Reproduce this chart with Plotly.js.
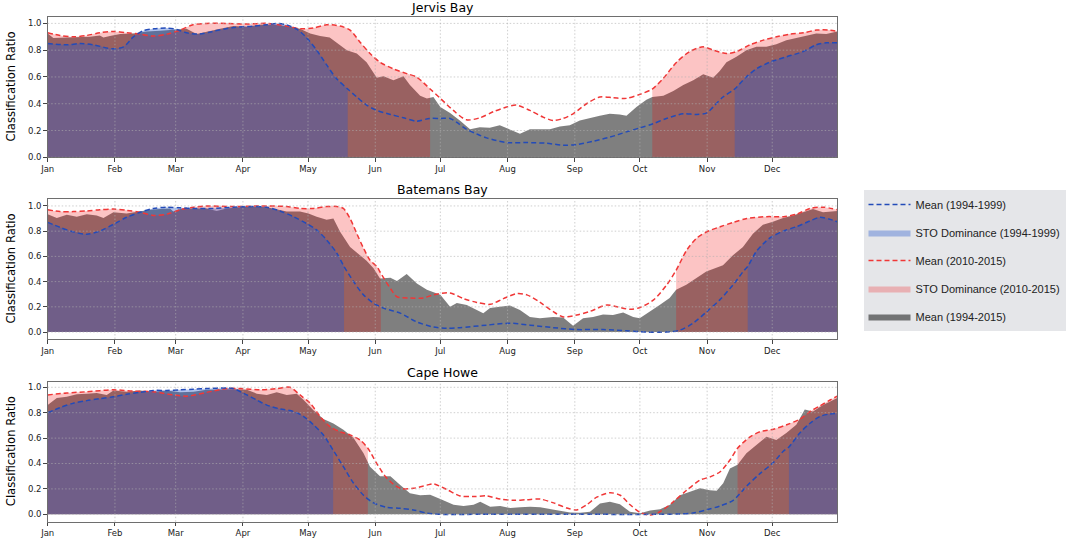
<!DOCTYPE html>
<html><head><meta charset="utf-8">
<script src="https://cdn.plot.ly/plotly-3.0.1.min.js"></script>
<style>html,body{margin:0;padding:0;background:#fff}#chart{width:1074px;height:538px}</style>
</head><body><div id="chart"></div>
<script>
// ---------- tick labels ----------
const monthTicks = [0,31,59,90,120,151,181,212,243,273,304,334];
const monthLabels = ['Jan','Feb','Mar','Apr','May','Jun','Jul','Aug','Sep','Oct','Nov','Dec'];
const yTicks = [0,0.2,0.4,0.6,0.8,1.0];
const siteNames = ['Jervis Bay','Batemans Bay','Cape Howe'];
const seriesNames = ['Mean (1994-1999)','STO Dominance (1994-1999)','Mean (2010-2015)','STO Dominance (2010-2015)','Mean (1994-2015)'];

// ---------- Jervis Bay ----------
const jervisAllDays = [0,2.6,8.8,15,19.5,24,25.7,28.7,33.4,39.5,45.6,51.8,58,64,68.7,74.9,79.5,85.6,91.8,98,104,110,116.3,121,125.6,130,133,137.9,142.5,147,151.7,154.8,159.4,164,167,171.7,174.8,177.8,181,185.5,190,194.7,199.2,203.8,208.4,213.1,217.7,222.3,226.9,231.5,236.1,240.7,245.3,250,254.5,259.1,263.7,266.8,271.4,276,278.7,283.8,288.4,293,297.6,302.2,306.8,309.8,312.9,317.5,322.1,326.7,331.3,335.9,340.5,345.1,349.7,354.3,358.9,364];
const jervisAllMean = [0.925,0.89,0.895,0.895,0.90,0.91,0.895,0.905,0.92,0.925,0.94,0.945,0.95,0.96,0.92,0.945,0.96,0.98,0.975,0.99,0.99,0.98,0.96,0.925,0.905,0.895,0.86,0.80,0.775,0.71,0.595,0.605,0.575,0.605,0.54,0.46,0.44,0.45,0.375,0.33,0.275,0.21,0.225,0.22,0.24,0.21,0.175,0.21,0.21,0.21,0.23,0.24,0.275,0.295,0.31,0.325,0.32,0.31,0.375,0.43,0.45,0.46,0.495,0.54,0.575,0.62,0.595,0.645,0.71,0.75,0.80,0.825,0.825,0.845,0.875,0.89,0.91,0.925,0.92,0.94];
const jervisOldDays = [0,8.8,15,21,30,35,39.5,44,49,55,59.5,64,70,76,85.6,95,101,105.6,110,115,119,124,128.6,133,138.3,142.5,147,151.7,158,164,170,176,181,185.5,188.6,193,197.7,202.3,211.5,220.7,229.9,237.6,243.8,251.5,259.1,266.8,273,279,285.2,292.9,299,303.7,306.7,311.3,316.7,322,326.6,332.8,340.5,348.2,354.3,359,364];
const jervisOldMean = [0.85,0.84,0.85,0.84,0.81,0.825,0.90,0.945,0.96,0.965,0.955,0.93,0.92,0.94,0.97,0.98,0.99,1.0,0.99,0.955,0.90,0.80,0.69,0.59,0.51,0.45,0.39,0.35,0.32,0.295,0.27,0.29,0.29,0.29,0.26,0.21,0.175,0.145,0.11,0.11,0.105,0.09,0.095,0.12,0.15,0.19,0.22,0.25,0.29,0.325,0.32,0.33,0.375,0.45,0.51,0.60,0.66,0.71,0.75,0.79,0.84,0.855,0.855];
const jervisNewDays = [0,5.7,11.8,18,24,30,36.4,42.6,48.7,55,61,67,73.3,82.5,91.8,101,110,116.3,122.5,128.6,134.8,139.4,144,148.6,153.2,159.4,165.5,170,176.3,181,187,193,199.2,205.4,211.5,216.1,222.3,228.4,233,237.6,242.2,248.4,254.5,260.7,266.8,273,278.7,283.8,289.9,296,302.2,306.8,313,317.6,323.7,329.9,336,342.2,348.4,354.5,360.6,364];
const jervisNewMean = [0.93,0.91,0.90,0.91,0.93,0.94,0.93,0.92,0.905,0.92,0.95,0.99,1.0,1.0,0.995,1.0,0.98,0.96,0.965,0.99,0.98,0.95,0.86,0.775,0.71,0.66,0.625,0.60,0.51,0.44,0.35,0.28,0.295,0.34,0.375,0.39,0.35,0.30,0.275,0.29,0.325,0.40,0.45,0.445,0.44,0.47,0.51,0.59,0.71,0.79,0.825,0.80,0.775,0.79,0.84,0.875,0.90,0.92,0.93,0.95,0.95,0.94];
const jervisOldDominance = [[0,138.3],[316.7,364]];
const jervisNewDominance = [[0,176.3],[278.7,364]];

// ---------- Batemans Bay ----------
const batemansAllDays = [0,4.2,8.8,13.4,18,22.6,25.7,30.3,36.4,42.6,47.2,51.8,56.4,57.9,61,67.2,73.3,77.9,82.5,88.7,94.8,101,105.6,110.2,116.3,120.2,124,128.6,131.7,134.8,139.4,144,147,150.2,153.2,158,161,165.5,170.2,174.8,181,185.5,188.6,193.2,197.8,200.8,203.9,208.5,213.1,217.7,222.3,226.9,233,237.6,242.2,246.8,251.4,256,260.6,265.3,269.9,272.9,277.5,282.1,286.7,289.7,294.4,299,303.6,306.7,311.3,315.9,320.5,325.1,329.7,334.3,339,343.6,348.2,352.8,357.4,364];
const batemansAllMean = [0.935,0.905,0.93,0.915,0.935,0.925,0.905,0.95,0.94,0.96,0.97,0.975,0.98,0.955,0.975,0.98,0.98,0.96,0.98,0.99,0.995,0.99,0.975,0.955,0.955,0.94,0.915,0.89,0.90,0.795,0.675,0.61,0.565,0.505,0.425,0.43,0.405,0.46,0.385,0.335,0.295,0.20,0.23,0.215,0.175,0.15,0.19,0.20,0.21,0.175,0.12,0.11,0.12,0.115,0.05,0.11,0.12,0.14,0.135,0.155,0.12,0.11,0.16,0.215,0.27,0.335,0.375,0.425,0.48,0.50,0.53,0.61,0.675,0.78,0.85,0.875,0.905,0.925,0.95,0.975,0.95,0.96];
const batemansOldDays = [0,5.7,11.8,18,24,30.3,36.4,42.6,48.7,55,61,67.2,76.4,85.6,94.8,101,107,113.3,119.4,124,128.6,133.3,136.6,141,145.6,150.2,154.8,162.5,170.2,177.8,184,190,202.3,213.1,222.3,233,243.8,256.1,266.8,276,285.2,291.4,297.5,303.7,309.8,316,320.6,322.7,326.7,332.8,339,345.1,351.3,355.9,360.5,364];
const batemansOldMean = [0.87,0.83,0.795,0.775,0.80,0.855,0.91,0.95,0.98,0.99,0.985,0.98,0.98,0.99,0.995,0.99,0.96,0.915,0.86,0.81,0.73,0.625,0.52,0.40,0.295,0.23,0.19,0.15,0.08,0.04,0.03,0.035,0.055,0.07,0.055,0.035,0.02,0.02,0.01,0.0,0.0,0.015,0.07,0.16,0.255,0.375,0.48,0.52,0.64,0.745,0.80,0.835,0.88,0.91,0.895,0.875];
const batemansNewDays = [0,5.7,11.8,18,24,30.3,36.4,42.6,48.7,55,61,67.2,73.3,85.6,98,110.2,116.3,122.5,128.6,133.3,136.3,139.4,142.5,145.6,148.6,151.7,153.6,158,161,167,173,177.8,185.5,191.7,197.8,204,210.1,216.3,220.9,227,233.2,237.8,243.9,250.1,257.8,262.4,268.5,273.1,279.3,285.4,289.7,294.6,299.2,303.8,310,316.1,322.3,331.5,339.2,345.3,351.5,357.6,364];
const batemansNewMean = [0.97,0.955,0.955,0.96,0.97,0.975,0.965,0.95,0.925,0.935,0.97,0.99,1.0,0.995,1.0,0.995,0.98,0.98,0.995,0.995,0.98,0.90,0.78,0.665,0.57,0.52,0.465,0.345,0.28,0.27,0.27,0.295,0.31,0.265,0.235,0.22,0.265,0.305,0.295,0.235,0.16,0.12,0.135,0.165,0.215,0.20,0.18,0.195,0.255,0.375,0.49,0.65,0.745,0.795,0.835,0.87,0.90,0.915,0.915,0.935,0.98,0.99,0.97];
const batemansOldDominance = [[0,136.6],[322.7,364]];
const batemansNewDominance = [[0,153.6],[289.7,364]];

// ---------- Cape Howe ----------
const capeAllDays = [0,4.2,8.8,13.4,18,22.6,27.2,30.3,36.4,42.6,48.7,54.9,61,67.2,73.3,79.5,85.6,91.8,96.4,101,105.6,110.2,114.8,118,122.5,127.1,131.7,136.3,141,145.6,148.6,153.2,158,162.5,167,171.7,176.3,181,187.1,191.7,196.3,199.4,204,208.6,213.2,217.8,222.4,227,231.6,236.2,240.8,245.4,250,254.6,259.2,263.8,268.4,273.1,277.7,282.3,286.9,291.5,296.1,300.7,305.3,308.4,311.4,314.5,318,322.1,326.7,331.3,335.9,340.5,345.1,349,352.8,357.4,364];
const capeAllMean = [0.86,0.915,0.925,0.945,0.95,0.955,0.94,0.975,0.965,0.975,0.965,0.975,0.96,0.965,0.98,0.985,0.985,0.98,0.95,0.94,0.96,0.94,0.95,0.90,0.82,0.75,0.715,0.665,0.60,0.48,0.375,0.30,0.30,0.23,0.165,0.15,0.155,0.12,0.075,0.065,0.075,0.10,0.06,0.065,0.05,0.055,0.06,0.055,0.04,0.03,0.015,0.013,0.02,0.085,0.10,0.08,0.02,0.008,0.03,0.04,0.075,0.15,0.18,0.205,0.19,0.185,0.245,0.36,0.39,0.48,0.545,0.61,0.585,0.64,0.705,0.825,0.81,0.86,0.915];
const capeOldDays = [0,5.7,11.8,18,24,30.3,36.4,42.6,48.7,55,61,67.2,73.3,82.5,85.6,91.8,96.4,101,107,113.3,118,122.5,127.1,131.6,136.3,141,145.6,150.2,156.3,162.5,168.6,174.8,181,200,240,280,291,297.5,303.7,309.8,316,322.1,328.3,334.4,339,341.7,346.7,351.3,355.9,360.5,364];
const capeOldMean = [0.80,0.84,0.875,0.895,0.91,0.925,0.945,0.96,0.975,0.975,0.98,0.985,0.99,0.995,0.99,0.94,0.90,0.86,0.83,0.81,0.77,0.705,0.625,0.505,0.375,0.245,0.15,0.09,0.055,0.047,0.035,0.01,0.0,0.0,0.0,0.0,0.003,0.01,0.035,0.065,0.11,0.22,0.32,0.405,0.495,0.53,0.64,0.715,0.77,0.79,0.795];
const capeNewDays = [0,8.8,18,30.3,39.5,48.7,58,64,73.3,82.5,88.7,98,105.6,111.7,116.3,121,125.6,130.2,134.8,139.4,144,147.6,151.7,156.3,162.5,168.6,174.8,177.8,184,190.1,196.3,202.4,208.6,214.7,220.9,227,233.2,239.3,243.9,248.5,253.1,259.3,263.9,268.5,273.1,277.7,282.3,288.5,294.6,300.8,305.4,310,314.6,318,323.8,328.4,334.6,340.7,346.8,351.5,356.1,360.7,364];
const capeNewMean = [0.94,0.955,0.965,0.98,0.97,0.965,0.94,0.93,0.96,0.99,0.99,0.98,0.99,1.0,0.94,0.875,0.77,0.69,0.65,0.625,0.585,0.52,0.40,0.285,0.205,0.205,0.23,0.24,0.195,0.145,0.14,0.145,0.12,0.11,0.115,0.12,0.09,0.05,0.035,0.075,0.135,0.17,0.15,0.075,0.015,-0.005,0.02,0.10,0.19,0.27,0.295,0.335,0.43,0.52,0.61,0.65,0.67,0.705,0.75,0.81,0.855,0.90,0.93];
const capeOldDominance = [[0,131.6],[341.7,364]];
const capeNewDominance = [[0,147.6],[318,364]];

// ---------- assemble ----------
const panels = [
  {allD: jervisAllDays, allM: jervisAllMean, oldD: jervisOldDays, oldM: jervisOldMean, newD: jervisNewDays, newM: jervisNewMean, oldDom: jervisOldDominance, newDom: jervisNewDominance},
  {allD: batemansAllDays, allM: batemansAllMean, oldD: batemansOldDays, oldM: batemansOldMean, newD: batemansNewDays, newM: batemansNewMean, oldDom: batemansOldDominance, newDom: batemansNewDominance},
  {allD: capeAllDays, allM: capeAllMean, oldD: capeOldDays, oldM: capeOldMean, newD: capeNewDays, newM: capeNewMean, oldDom: capeOldDominance, newDom: capeNewDominance}
];

const C = {
  grey: 'rgba(0,0,0,0.5)',
  redFill: 'rgba(240,0,0,0.23)',
  blueFill: 'rgba(40,90,205,0.36)',
  redLine: 'rgb(240,55,55)',
  blueLine: 'rgb(35,75,185)',
  grid: 'rgba(175,175,175,0.6)'
};

const traces = [];
panels.forEach((p, i) => {
  const xa = i === 0 ? 'x' : 'x' + (i + 1);
  const ya = i === 0 ? 'y' : 'y' + (i + 1);
  const first = i === 0;
  traces.push({x: p.allD, y: p.allM, xaxis: xa, yaxis: ya, type: 'scatter', mode: 'lines',
    line: {width: 0, color: C.grey}, fill: 'tozeroy', fillcolor: C.grey,
    name: seriesNames[4], legendgroup: 'g5', legendrank: 5, showlegend: first, hoverinfo: 'skip'});
  p.newDom.forEach((seg, k) => {
    const xs = [], ys = [];
    p.newD.forEach((d, j) => { if (d >= seg[0] && d <= seg[1]) { xs.push(d); ys.push(p.newM[j]); } });
    traces.push({x: xs, y: ys, xaxis: xa, yaxis: ya, type: 'scatter', mode: 'lines',
      line: {width: 0, shape: 'spline', smoothing: 0.8, color: C.redFill}, fill: 'tozeroy', fillcolor: C.redFill,
      name: seriesNames[3], legendgroup: 'g4', legendrank: 4, showlegend: first && k === 0, hoverinfo: 'skip'});
  });
  p.oldDom.forEach((seg, k) => {
    const xs = [], ys = [];
    p.oldD.forEach((d, j) => { if (d >= seg[0] && d <= seg[1]) { xs.push(d); ys.push(p.oldM[j]); } });
    traces.push({x: xs, y: ys, xaxis: xa, yaxis: ya, type: 'scatter', mode: 'lines',
      line: {width: 0, shape: 'spline', smoothing: 0.8, color: C.blueFill}, fill: 'tozeroy', fillcolor: C.blueFill,
      name: seriesNames[1], legendgroup: 'g2', legendrank: 2, showlegend: first && k === 0, hoverinfo: 'skip'});
  });
  traces.push({x: p.newD, y: p.newM, xaxis: xa, yaxis: ya, type: 'scatter', mode: 'lines',
    line: {width: 1.5, dash: '5px,3px', shape: 'spline', smoothing: 0.8, color: C.redLine},
    name: seriesNames[2], legendgroup: 'g3', legendrank: 3, showlegend: first});
  traces.push({x: p.oldD, y: p.oldM, xaxis: xa, yaxis: ya, type: 'scatter', mode: 'lines',
    line: {width: 1.5, dash: '5px,3px', shape: 'spline', smoothing: 0.8, color: C.blueLine},
    name: seriesNames[0], legendgroup: 'g1', legendrank: 1, showlegend: first});
});

const W = 1074, H = 538;
const xDomain = [47.7 / W, 837.3 / W];
const yDomains = [[1 - 157.3 / H, 1 - 16.7 / H], [1 - 339 / H, 1 - 199 / H], [1 - 521.7 / H, 1 - 381.7 / H]];
const yRanges = [[0, 1.05], [-0.055, 1.055], [-0.058, 1.044]];

const tickFont = {family: 'DejaVu Sans, sans-serif', size: 8.5, color: '#222'};
const layout = {
  width: W, height: H,
  margin: {l: 0, r: 0, t: 0, b: 0},
  paper_bgcolor: '#fff', plot_bgcolor: '#fff',
  showlegend: true,
  legend: {x: 863.5 / W, y: 1 - 190 / H, xanchor: 'left', yanchor: 'top',
    bgcolor: '#e5e6e9', borderwidth: 0, itemwidth: 42, tracegroupgap: 9,
    font: {family: 'Liberation Sans, Arial, sans-serif', size: 11, color: '#222'},
    traceorder: 'grouped'},
  annotations: [],
  shapes: [],
  hovermode: false
};

panels.forEach((p, i) => {
  const sfx = i === 0 ? '' : String(i + 1);
  layout['xaxis' + sfx] = {
    domain: xDomain, anchor: 'y' + sfx, range: [0, 364],
    tickmode: 'array', tickvals: monthTicks, ticktext: monthLabels,
    ticks: 'outside', ticklen: 3.5, tickcolor: '#444', tickfont: tickFont,
    showgrid: false,
    showline: true, mirror: true, linecolor: '#6e6e6e', linewidth: 1, zeroline: false, fixedrange: true
  };
  layout['yaxis' + sfx] = {
    domain: yDomains[i], anchor: 'x' + sfx, range: yRanges[i],
    tickmode: 'array', tickvals: yTicks, tickformat: '.1f',
    ticks: 'outside', ticklen: 3.5, tickcolor: '#444', tickfont: tickFont,
    showgrid: false,
    showline: true, mirror: true, linecolor: '#6e6e6e', linewidth: 1, zeroline: false, fixedrange: true
  };
  // dotted grid drawn above the fills, at the tick positions
  monthTicks.forEach(t => {
    if (t === 0) return;
    layout.shapes.push({type: 'line', layer: 'above', xref: 'x' + sfx, yref: 'y' + sfx + ' domain',
      x0: t, x1: t, y0: 0, y1: 1, line: {color: C.grid, width: 1, dash: '1.5px,2px'}});
  });
  yTicks.forEach(t => {
    layout.shapes.push({type: 'line', layer: 'above', xref: 'x' + sfx + ' domain', yref: 'y' + sfx,
      x0: 0, x1: 1, y0: t, y1: t, line: {color: C.grid, width: 1, dash: '1.5px,2px'}});
  });
  layout.annotations.push({
    text: siteNames[i], xref: 'paper', yref: 'paper',
    x: (xDomain[0] + xDomain[1]) / 2, y: yDomains[i][1], xanchor: 'center', yanchor: 'bottom', yshift: 0,
    showarrow: false, font: {family: 'DejaVu Sans, sans-serif', size: 12.5, color: '#000'}
  });
  layout.annotations.push({
    text: 'Classification Ratio', xref: 'paper', yref: 'paper',
    x: 10.5 / W, y: (yDomains[i][0] + yDomains[i][1]) / 2, xanchor: 'center', yanchor: 'middle',
    textangle: -90, showarrow: false, font: {family: 'DejaVu Sans, sans-serif', size: 11.6, color: '#000'}
  });
});

Plotly.newPlot('chart', traces, layout, {displayModeBar: false, staticPlot: true});
</script>
</body></html>
